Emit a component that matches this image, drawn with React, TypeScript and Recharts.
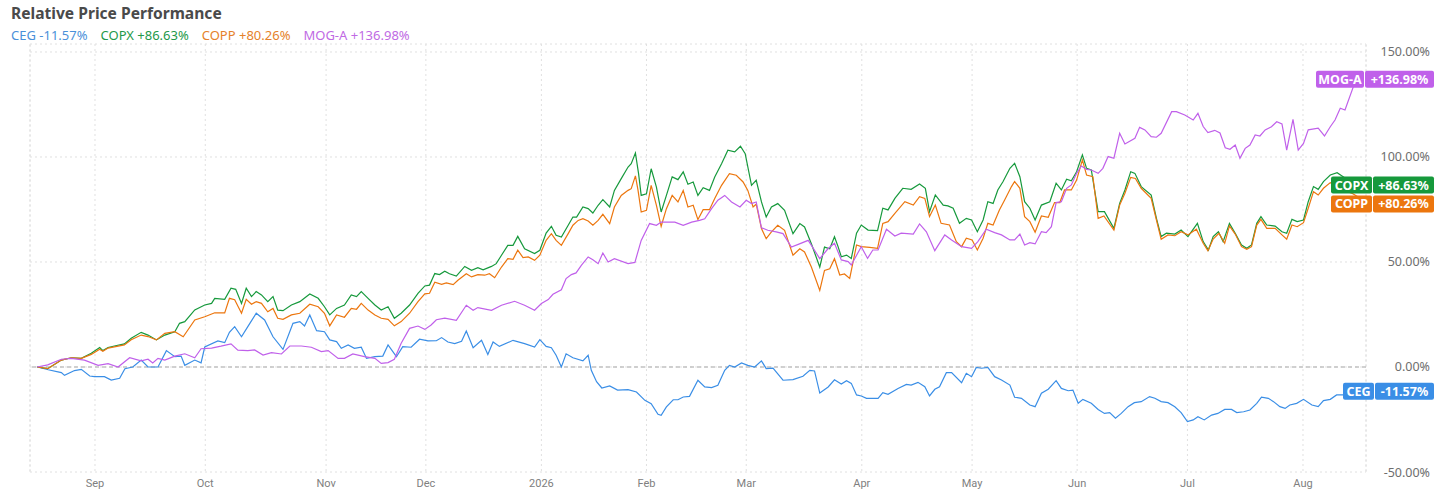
import { LineChart, Line, XAxis, YAxis, CartesianGrid, ReferenceLine } from "recharts";

const W = 1437;
const H = 502;

// x = trading-day index, day 0 = 15 Aug 2025
const X_MIN = -1.37;
const X_MAX = 253;
const Y_MIN = -50;
const Y_MAX = 153.8;

const MONTH_DAYS = [11, 32, 55, 74, 96, 116, 135, 157, 178, 198, 219, 241];
const MONTH_LABELS = ["Sep", "Oct", "Nov", "Dec", "2026", "Feb", "Mar", "Apr", "May", "Jun", "Jul", "Aug"];
const Y_TICKS = [-50, 0, 50, 100, 150];

// [trading day, % change]
const CEG: [number, number][] = [
  [0, 0], [2.1, -1.3], [4.6, -2.7], [5.2, -4.0], [7.1, -1.7], [8.4, -1.1], [10, -4.3], [10.9, -4.6],
  [12.8, -4.6], [14.1, -6.2], [15.7, -5.4], [16.7, -0.8], [18.2, 0], [19.8, 3.3], [21.1, 0], [23, 0],
  [24.6, 7.8], [26.2, 4.9], [27.4, 5.2], [28.1, 0.8], [30, 3.3], [31.2, 2.0], [31.9, 9.5], [34.4, 12.4],
  [35.7, 11.6], [36.6, 16.5], [37.6, 19.2], [38.9, 14.4], [40.1, 19.2], [41.7, 25.6], [43.3, 22.4],
  [44.9, 14.4], [46.8, 8.4], [48.7, 20.8], [50, 21.6], [50.9, 19.5], [51.9, 24.8], [53.2, 17.3],
  [54.7, 16.8], [55.7, 12.9], [57, 12.1], [57.9, 8.9], [59.2, 10.5], [60.4, 8.9], [61.7, 9.4], [62.7, 4.1],
  [64.3, 4.9], [65.8, 5.2], [66.8, 10.5], [68.4, 4.9], [69.6, 9.7], [71.2, 9.4], [72.8, 13.2], [74.4, 12.4],
  [76, 12.5], [77, 14.0], [78.2, 11.9], [79.5, 11.1], [80.8, 12.2], [81.7, 17.1], [83, 9.2], [84.6, 12.7],
  [85.8, 6.0], [86.8, 11.9], [88, 9.8], [90.6, 12.7], [92.8, 11.1], [94.7, 9.5], [95.7, 13.0], [96.9, 9.8],
  [97.9, 9.2], [98.8, 5.6], [99.8, 0], [100.7, 6.3], [102, 4.4], [103.9, 2.9], [104.9, 5.6], [105.5, -1.6],
  [106.5, -7], [107.5, -10], [109, -9], [110.5, -11], [112.5, -10.8], [114.1, -11.9], [115.7, -15.9],
  [116.9, -17.5], [118.2, -22.5], [118.8, -23.0], [119.8, -19.0], [121.1, -15.6], [122, -15.6],
  [123, -14.3], [124.2, -14.0], [125.8, -6.3], [127.1, -9.5], [128.4, -9.8], [129.6, -8.7], [130.9, -1.6],
  [131.8, 0.8], [132.8, 0], [134.1, 1.9], [135.3, 0.8], [136.6, 0], [137.9, 2.9], [138.8, -0.8],
  [140.1, -0.5], [142, -6.3], [143.9, -6.0], [145.8, -4.4], [147.1, -1.6], [148, -1.9], [149, -12.4],
  [150.6, -9.5], [151.8, -6.1], [153.1, -8.1], [154.1, -6.5], [155, -7.8], [156, -13.3], [156.9, -13.8],
  [157.9, -14.9], [160.1, -14.9], [161, -12.2], [162, -13.0], [163.9, -10.2], [165.5, -8.3], [166.4, -8.6],
  [167.7, -7.3], [169, -9.4], [169.9, -13.8], [170.9, -10.6], [171.8, -9.4], [173.1, -2.7], [174.1, -2.7],
  [176, -7.5], [176.9, -3.0], [177.9, -4.6], [178.8, -0.2], [179.8, -0.6], [181, -0.2], [182.3, -4.6],
  [183.6, -6.2], [185.2, -8.6], [186.1, -14.4], [187.4, -14.9], [189, -18.1], [190, -18.9], [191.2, -12.5],
  [192.5, -10.6], [194, -6.5], [195, -10.2], [196.3, -11.3], [197.2, -11.0], [198.2, -17.3], [199.1, -15.4],
  [200.7, -17.3], [202, -20.2], [203.2, -22.1], [204.2, -21.7], [205.3, -24.4], [206.4, -22.1],
  [207.7, -18.9], [208.9, -17.0], [210.2, -16.5], [211.8, -14.1], [212.8, -14.9], [214, -16.5],
  [215.3, -17.0], [216.6, -18.9], [217.8, -21.7], [219, -26.0], [220.1, -25.2], [221, -23.7],
  [222.2, -25.2], [223.6, -22.9], [224.8, -22.1], [226.1, -20.2], [227.4, -20.2], [228.4, -21.7],
  [229.7, -21.3], [230.9, -20.5], [232.2, -17.3], [233.1, -14.4], [234.4, -14.9], [235.4, -16.5],
  [236.6, -18.9], [237.6, -19.7], [238.5, -18.1], [239.8, -17.3], [241.1, -15.4], [242.7, -18.1],
  [243.9, -18.9], [244.9, -16.0], [246.2, -15.4], [247.4, -13.3], [248.7, -13.3], [250.5, -12.0],
  [252, -11.57],
];

const COPX: [number, number][] = [
  [0, 0], [2, -0.8], [4.6, 3.3], [6.5, 4.4], [8.4, 4.1], [10.3, 6.5], [11.9, 9.3], [12.5, 7.8], [13.5, 9.3],
  [14.7, 10.0], [16.6, 11.0], [17.9, 13.7], [19.8, 16.5], [21.1, 15.2], [22.7, 12.9], [24.3, 15.2],
  [26.2, 16.8], [27.1, 20.8], [28.1, 21.6], [30, 27.2], [31.9, 29.5], [33.2, 30.3], [33.8, 32.7],
  [35.7, 32.2], [36.9, 37.5], [37.8, 37.0], [38.9, 30.3], [39.8, 37.5], [40.8, 33.5], [41.7, 35.9],
  [42.7, 34.3], [43.9, 31.1], [44.9, 33.5], [45.8, 27.1], [46.8, 26.8], [48.4, 29.5], [50, 31.1],
  [51.9, 34.8], [53.5, 32.7], [54.7, 28.7], [55.7, 24.8], [57, 27.9], [58.5, 29.5], [59.8, 34.3],
  [60.8, 33.5], [61.7, 35.9], [63, 32.7], [64.3, 29.5], [65.5, 27.1], [66.8, 28.7], [68, 23.2],
  [69.3, 25.6], [70.9, 29.5], [72.5, 35.1], [73.8, 38.6], [74.7, 39.0], [75.7, 44.5], [76.6, 44.0],
  [77.6, 45.6], [78.5, 44.4], [79.8, 43.3], [81.4, 47.9], [82.7, 46.0], [83.9, 47.3], [84.9, 46.3],
  [86.5, 47.9], [87.4, 49.2], [88.4, 53.2], [89.6, 57.9], [90.6, 57.9], [91.5, 62.2], [92.8, 56.3],
  [94.7, 54.0], [95.7, 55.6], [96.9, 63.8], [97.9, 67.0], [98.8, 62.7], [99.8, 61.9], [101.1, 67.5],
  [102, 71.4], [102.7, 71.4], [103.9, 76.2], [104.9, 75.4], [105.8, 73.3], [106.8, 77.0], [107.7, 79.7],
  [109, 76.2], [109.9, 84.1], [111.2, 89.7], [112.5, 95.2], [113.1, 96.8], [113.9, 101.9], [114.5, 92.1],
  [115, 81.7], [116, 82.5], [116.9, 94.4], [117.9, 85.7], [118.8, 73.8], [119.8, 81.7], [120.9, 90.5],
  [122, 89.2], [123, 92.9], [123.9, 87.0], [124.9, 88.1], [125.8, 81.7], [126.8, 85.4], [128, 84.1],
  [129, 90.5], [130.3, 96.8], [131.5, 103.2], [132.8, 102.4], [133.9, 105.1], [134.8, 101.6], [136, 86.5],
  [136.9, 88.9], [137.9, 78.6], [138.8, 71.4], [139.8, 76.2], [141, 77.8], [142.3, 74.6], [143.9, 63.5],
  [145.2, 68.3], [146.1, 66.7], [147.4, 58.7], [149, 47.6], [149.9, 57.1], [150.9, 56.3], [151.8, 62.0],
  [152.5, 57.2], [153.1, 52.5], [154.1, 53.3], [155, 51.7], [156, 63.7], [156.9, 67.6], [158.2, 65.2],
  [160, 64.9], [161, 75.6], [162, 74.8], [163.3, 80.3], [164.8, 85.1], [166.4, 84.6], [168, 87.1],
  [169.1, 85.1], [169.9, 74.0], [171, 81.9], [172.5, 77.1], [173.4, 76.7], [174.4, 75.6], [175.6, 68.4],
  [176.9, 70.8], [177.9, 70.0], [179, 64.4], [180.1, 70.0], [181, 78.7], [182, 77.9], [182.9, 84.3],
  [183.9, 88.3], [185.2, 94.6], [186.1, 97.0], [187.1, 90.6], [188, 78.7], [189, 75.6], [190, 70.0],
  [191.2, 77.1], [192.8, 78.7], [194, 87.5], [195, 84.3], [196, 89.4], [196.9, 88.7], [197.9, 93.0],
  [199, 101.0], [199.8, 94.6], [200.7, 93.8], [202, 74.0], [203.2, 74.0], [205, 66.0], [206.1, 77.9],
  [207.1, 84.3], [208.2, 93.0], [209, 92.2], [210.2, 85.9], [212.1, 81.9], [213.1, 70.8], [214, 62.1],
  [215, 63.7], [216.6, 63.3], [217.8, 65.2], [219.1, 62.1], [220.9, 68.4], [222, 59.7], [223, 55.7],
  [223.9, 62.1], [224.9, 64.4], [225.8, 59.7], [227, 68.4], [228.1, 63.7], [229.3, 58.1], [230.3, 56.5],
  [231.2, 58.1], [232.2, 68.4], [233, 71.6], [234.1, 67.6], [235.7, 67.1], [237, 64.4], [237.9, 63.7],
  [238.9, 70.3], [239.9, 69.2], [241.1, 70.0], [242, 78.7], [243, 85.9], [243.9, 84.6], [244.9, 88.3],
  [246.2, 91.4], [247.5, 92.5], [249, 90.0], [250.5, 89.0], [252, 86.63],
];

const COPP: [number, number][] = [
  [0, 0], [2, -0.8], [4.6, 3.3], [6.5, 4.4], [8.4, 4.1], [10.3, 6.0], [11.9, 8.5], [12.5, 7.5], [13.5, 9.0],
  [14.7, 9.6], [16.6, 10.5], [17.9, 13.0], [19.8, 15.2], [21.1, 14.5], [22.7, 12.9], [24.3, 16.0],
  [26.2, 16.8], [27.8, 14.4], [30, 22.4], [31.9, 23.9], [33.8, 25.8], [35.7, 25.8], [36.6, 32.7],
  [37.6, 32.0], [38.9, 25.6], [39.8, 32.2], [40.8, 29.9], [41.7, 31.1], [42.7, 30.3], [43.9, 26.3],
  [44.9, 27.9], [45.8, 23.2], [46.8, 22.7], [48.4, 24.8], [50, 25.6], [51.9, 29.9], [53.5, 28.7],
  [54.7, 25.6], [55.7, 19.6], [57, 24.8], [58.5, 23.7], [59.8, 27.9], [60.8, 27.5], [61.7, 30.3],
  [63, 27.1], [64.3, 24.8], [65.5, 23.2], [66.8, 22.7], [68, 19.6], [69.3, 21.6], [70.9, 25.6],
  [72.5, 31.1], [73.8, 34.8], [74.7, 35.1], [75.7, 40.4], [77, 39.4], [77.9, 40.0], [79.2, 39.2],
  [80.1, 41.3], [81.7, 44.4], [82.7, 42.9], [83.9, 44.0], [85.2, 43.7], [86.1, 44.4], [87.1, 42.5],
  [88.4, 47.6], [89.6, 51.6], [90.6, 51.3], [91.5, 55.6], [92.5, 52.1], [93.5, 52.4], [94.7, 50.8],
  [95.7, 53.2], [96.9, 60.3], [97.9, 63.5], [98.8, 60.3], [99.8, 57.9], [101.1, 63.5], [102, 67.5],
  [103, 69.8], [103.9, 70.6], [104.9, 69.5], [105.8, 67.5], [106.8, 69.8], [107.7, 72.7], [109, 68.3],
  [109.9, 76.2], [111.2, 81.7], [112.5, 84.1], [113.1, 84.9], [113.9, 91.0], [114.4, 84.1], [115, 73.8],
  [116, 74.6], [116.9, 86.5], [117.9, 77.0], [118.8, 67.0], [119.8, 75.4], [120.9, 81.7], [122, 78.6],
  [123, 84.1], [123.9, 76.2], [124.9, 77.0], [125.8, 70.2], [126.8, 74.9], [128, 74.9], [129, 80.2],
  [130.3, 86.5], [131.8, 92.1], [133.1, 91.3], [134.4, 88.1], [135.3, 84.1], [136.3, 76.2], [136.9, 77.5],
  [137.9, 65.9], [138.8, 61.1], [139.8, 64.3], [141, 67.5], [142.3, 65.1], [143.9, 53.2], [145.2, 56.3],
  [146.1, 54.8], [147.4, 47.6], [149, 36.5], [149.9, 46.0], [150.9, 46.8], [151.8, 51.6], [152.8, 43.8],
  [153.7, 44.3], [154.7, 42.2], [156, 58.1], [156.9, 57.3], [158.5, 57.0], [160, 56.5], [161, 68.4],
  [162, 69.2], [163.3, 73.2], [165.2, 78.7], [166.8, 77.1], [168, 81.1], [169, 80.3], [169.9, 71.6],
  [171, 77.1], [172.1, 68.4], [173.7, 67.6], [175, 59.7], [176, 57.3], [176.9, 61.3], [178, 60.5],
  [179, 55.7], [180.1, 61.3], [181, 68.4], [182, 67.6], [183.2, 74.8], [184.2, 79.5], [185.5, 85.9],
  [186.1, 88.3], [187.1, 85.1], [188, 71.6], [189, 69.2], [190, 64.2], [191.2, 71.9], [192.5, 71.3],
  [193.7, 78.3], [194.7, 78.3], [195.6, 84.3], [196.9, 84.3], [197.9, 89.0], [199, 98.6], [199.8, 91.4],
  [201, 90.6], [202, 70.8], [203.1, 71.9], [205, 65.2], [206.1, 77.1], [207.1, 82.7], [208.2, 90.3],
  [209.1, 89.8], [210.2, 85.1], [212.1, 80.3], [213.1, 70.0], [214, 60.8], [215.3, 62.9], [216.6, 62.5],
  [217.8, 64.4], [219.1, 62.9], [220.7, 65.6], [222, 58.9], [222.9, 55.4], [223.9, 60.9], [225, 63.7],
  [226.1, 58.9], [227, 67.2], [228.1, 63.3], [229.3, 57.3], [230.3, 56.0], [231.2, 57.3], [232.2, 67.6],
  [233, 70.3], [234.1, 66.0], [235.7, 66.0], [237, 62.9], [237.9, 60.8], [238.9, 67.6], [239.9, 66.8],
  [241.1, 68.7], [242, 75.6], [243, 83.5], [243.9, 81.9], [244.9, 85.1], [246.2, 87.8], [247.5, 86.0],
  [249, 84.0], [250.5, 82.5], [252, 80.26],
];

const MOG_A: [number, number][] = [
  [0, 0], [2, 1.0], [4.6, 3.7], [6.5, 4.1], [9, 3.3], [11.6, 0.8], [13.5, 1.6], [15.4, 0], [17.6, 4.4],
  [19.8, 2.9], [21.1, 3.7], [22, 1.9], [23, 4.1], [24.3, 3.3], [26.2, 5.2], [28.1, 6.3], [30, 4.4],
  [31.2, 8.7], [33.2, 9.0], [35, 9.9], [36.9, 11.0], [38.2, 8.0], [40.1, 7.8], [41.4, 8.1], [43, 5.7],
  [44.6, 6.8], [46.5, 6.2], [48.1, 10.0], [50.3, 10.0], [52.2, 9.4], [54.1, 7.3], [55.4, 7.8], [57.3, 4.1],
  [58.5, 4.1], [60.1, 6.2], [62.3, 4.9], [64.3, 4.1], [65.5, 1.7], [66.8, 2.1], [68, 3.7], [69.3, 11.3],
  [70.9, 18.4], [72.5, 19.5], [73.8, 17.9], [75, 20.0], [76, 22.5], [77.6, 23.3], [79.8, 22.2],
  [81.7, 29.4], [83, 27.0], [83.9, 28.3], [86.5, 27.0], [88.4, 29.4], [90.9, 31.3], [92.8, 29.4],
  [94.7, 27.0], [96, 30.2], [97.3, 32.1], [98.2, 34.6], [99.8, 36.8], [100.7, 42.1], [101.7, 44.0],
  [102.6, 44.8], [103.6, 48.4], [104.9, 52.4], [105.8, 51.1], [106.8, 49.2], [107.7, 54.3], [108.7, 50.0],
  [109.9, 51.6], [112.5, 49.2], [113.8, 49.8], [115, 60.3], [116.6, 68.3], [117.9, 67.5], [118.8, 69.0],
  [120.1, 69.0], [121.4, 69.0], [123, 67.5], [124.6, 69.0], [126.1, 69.8], [127.1, 70.6], [128.4, 75.4],
  [129.6, 79.4], [130.9, 81.7], [132.2, 78.6], [133.8, 76.2], [135, 79.4], [136, 77.8], [136.9, 78.6],
  [137.9, 66.3], [139.1, 65.1], [140.7, 64.3], [142, 63.5], [143.6, 57.1], [144.9, 58.4], [146.8, 60.3],
  [149, 51.6], [150.6, 56.4], [151.8, 58.9], [153.1, 51.0], [154.4, 50.2], [155, 48.6], [156.9, 57.3],
  [158.1, 51.7], [159.1, 55.7], [160.1, 55.7], [161.7, 65.6], [163.3, 62.4], [164.5, 63.7], [166.8, 63.3],
  [168, 68.1], [169.3, 64.4], [170.9, 55.4], [172.8, 62.9], [174.1, 60.5], [176, 57.3], [177.9, 56.5],
  [179.1, 59.7], [180.7, 65.6], [182.3, 64.0], [183.6, 62.9], [185.2, 60.5], [186.1, 60.5], [187.1, 63.3],
  [188, 58.1], [189, 59.2], [190, 58.6], [191.2, 64.4], [192.1, 64.0], [193.1, 66.8], [194, 78.3],
  [195, 78.7], [196, 85.1], [196.9, 86.7], [197.9, 92.2], [198.8, 95.7], [199.8, 94.1], [200.7, 93.8],
  [202, 92.2], [202.9, 94.6], [203.9, 100.2], [205, 99.4], [206.1, 111.3], [207.1, 106.2], [209, 108.9],
  [209.9, 114.1], [210.9, 112.9], [212.1, 109.7], [213.1, 109.4], [214, 111.3], [216, 121.6],
  [216.9, 121.6], [218.5, 120.0], [220.1, 117.6], [221, 120.8], [222, 114.5], [222.9, 111.6],
  [224.2, 112.7], [225.2, 111.4], [226.2, 104.4], [227.1, 103.7], [228.1, 105.7], [229, 99.4], [230, 104.1],
  [230.9, 105.7], [231.9, 110.5], [232.8, 110.0], [233.8, 112.9], [235, 114.4], [236, 116.8], [237, 115.7],
  [237.9, 103.3], [239.1, 117.9], [240.1, 103.3], [241.1, 106.5], [242, 112.9], [243.9, 113.7],
  [245.1, 110.0], [246.2, 114.4], [247.1, 117.6], [248.1, 123.2], [249, 122.4], [250.6, 133.5],
  [252, 136.98],
];

const SERIES = [
  { name: "CEG", color: "#3a8ee6", text: "#4a90d9", points: CEG, nameW: 31, valueW: 59, nudge: 0 },
  { name: "COPX", color: "#16993c", text: "#23994a", points: COPX, nameW: 41, valueW: 61, nudge: 0 },
  { name: "COPP", color: "#ec760e", text: "#e5822a", points: COPP, nameW: 41, valueW: 61, nudge: 5.5 },
  { name: "MOG-A", color: "#c060ea", text: "#c06ae4", points: MOG_A, nameW: 48, valueW: 69, nudge: 0 },
];

const FONT = "'Noto Sans', 'Open Sans', sans-serif";

const pct = (v: number) => `${v > 0 ? "+" : ""}${v.toFixed(2)}%`;

function makeTag(s: (typeof SERIES)[number], value: number) {
  return (props: any) => {
    const y = Number(props.y) + s.nudge;
    const right = W - 3;
    const vx = right - s.valueW;
    const nx = vx - 1 - s.nameW;
    const h = 17;
    return (
      <g>
        <rect x={nx} y={y - h / 2} width={s.nameW} height={h} rx={2} fill={s.color} />
        <rect x={vx} y={y - h / 2} width={s.valueW} height={h} rx={2} fill={s.color} />
        <text x={nx + s.nameW / 2} y={y + 4.5} textAnchor="middle" fill="#fff" fontSize={12.5} fontWeight={700} fontFamily={FONT}>
          {s.name}
        </text>
        <text x={vx + s.valueW / 2} y={y + 4.5} textAnchor="middle" fill="#fff" fontSize={12.5} fontWeight={700} fontFamily={FONT}>
          {pct(value)}
        </text>
      </g>
    );
  };
}

const gridStroke = "#e0e0e0";

export default function App() {
  const series = SERIES.map((s) => ({
    ...s,
    data: s.points.map(([day, v]) => ({ day, v })),
  }));

  return (
    <div style={{ position: "absolute", left: 0, top: 0, width: W, height: H, background: "#fff", fontFamily: FONT }}>
      <div style={{ position: "absolute", left: 11, top: 2, fontSize: 15.6, fontWeight: 700, color: "#4a4a4a", whiteSpace: "nowrap" }}>
        Relative Price Performance
      </div>
      <div style={{ position: "absolute", left: 11, top: 26, fontSize: 13, display: "flex", gap: 13, whiteSpace: "nowrap" }}>
        {SERIES.map((s) => (
          <span key={s.name} style={{ color: s.text }}>
            {s.name} {pct(s.points[s.points.length - 1][1])}
          </span>
        ))}
      </div>
      <div style={{ position: "absolute", left: 0, top: 0 }}>
        <LineChart width={W} height={H} margin={{ top: 44, right: 0, bottom: 0, left: 30 }}>
          <CartesianGrid stroke={gridStroke} strokeDasharray="2 3" />
          <XAxis
            dataKey="day"
            type="number"
            domain={[X_MIN, X_MAX]}
            ticks={MONTH_DAYS}
            allowDataOverflow
            height={30}
            axisLine={false}
            tickLine={false}
            tickSize={0}
            tickMargin={7}
            interval={0}
            tickFormatter={(d: number) => MONTH_LABELS[MONTH_DAYS.indexOf(d)] ?? ""}
            tick={{ fontSize: 11, fill: "#808080", fontFamily: "'Liberation Sans Narrow', Roboto, sans-serif" }}
          />
          <YAxis
            orientation="right"
            type="number"
            domain={[Y_MIN, Y_MAX]}
            ticks={Y_TICKS}
            allowDataOverflow
            width={71}
            axisLine={false}
            tickLine={false}
            tick={(p: any) => (
              <text x={W - 7} y={p.y} dy={4.5} textAnchor="end" fontSize={12.5} fill="#6e6e6e" fontFamily={FONT}>
                {`${Number(p.payload.value).toFixed(2)}%`}
              </text>
            )}
          />
          <ReferenceLine x={X_MIN} stroke={gridStroke} strokeDasharray="2 3" />
          <ReferenceLine x={X_MAX} stroke={gridStroke} strokeDasharray="2 3" />
          <ReferenceLine y={0} stroke="#c2c2c2" strokeDasharray="4 3" strokeWidth={1.3} />
          {series.map((s) => (
            <Line
              key={s.name}
              data={s.data}
              dataKey="v"
              type="linear"
              stroke={s.color}
              strokeWidth={1.2}
              dot={false}
              activeDot={false}
              isAnimationActive={false}
            />
          ))}
          {series.map((s) => (
            <Line
              key={`${s.name}-tag`}
              data={s.data.slice(-1)}
              dataKey="v"
              stroke="none"
              dot={false}
              activeDot={false}
              isAnimationActive={false}
              label={makeTag(s, s.data[s.data.length - 1].v)}
            />
          ))}
        </LineChart>
      </div>
    </div>
  );
}
